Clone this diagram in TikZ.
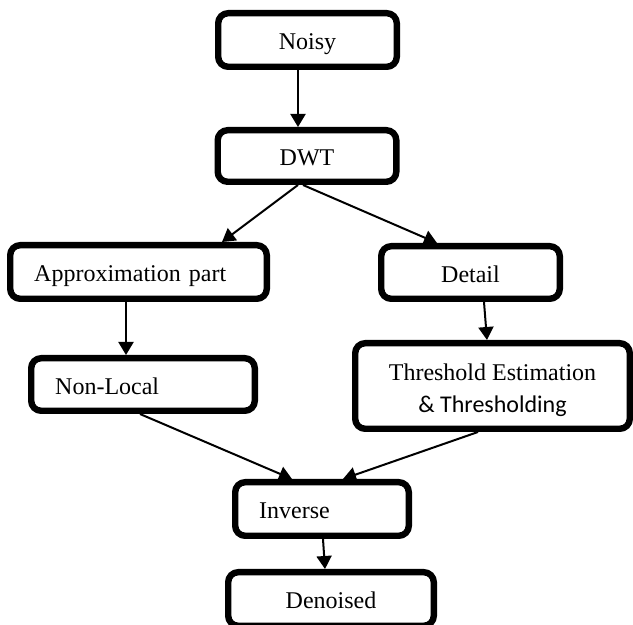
\documentclass[tikz,border=0pt]{standalone}
\usepackage{fontspec}
\setmainfont{Liberation Serif}
\newfontfamily\calibrifont{Carlito}
\usepackage{tikz}
\usetikzlibrary{arrows.meta}

\tikzset{
  block/.style={draw, line width=3.2pt, rounded corners=5pt, minimum height=26.8pt,
    text height=10pt, text depth=0pt, font=\fontsize{12}{14}\selectfont},
  padded/.style={align=left, inner xsep=12pt, text width=#1},
}

\begin{document}
\begin{tikzpicture}[x=0.5pt, y=-0.5pt, -{Triangle[length=6.5pt,width=7.5pt]}, line width=1pt]
		\useasboundingbox (0,0) rectangle (633,625);

		\node[block, minimum width=89.3pt] (noisy) at (307.5,40) {Noisy};
		\node[block, minimum width=89.3pt, minimum height=25.8pt] (dwt) at (307,156) {DWT};

		\node[block, padded=104.3pt] (approx) at (138.5,272) {Approximation part};
		\node[block, minimum width=89.3pt, minimum height=26.3pt] (detail) at (470.5,272.5) {Detail};

		\node[block, padded=87.8pt, minimum height=26.3pt] (nonlocal) at (143,384.5) {Non-Local};
		\node[block, minimum width=137.3pt, minimum height=42.8pt, align=center,
			text height=27pt, font=\fontsize{12}{16}\selectfont] (thresh) at (492.5,386)
			{Threshold Estimation\\{\calibrifont \& Thresholding}};

		\node[block, padded=62.8pt] (inverse) at (322,509) {Inverse};
		\node[block, minimum width=102.8pt] (denoised) at (331,599) {Denoised};

		\path ([xshift=-4.75pt]noisy.south) edge ([xshift=-4.5pt]dwt.north);

		\path ([xshift=-4.5pt]dwt.south) edge ([xshift=41.75pt]approx.north);
		\path ([xshift=-2pt]dwt.south) edge ([xshift=-16.75pt]detail.north);

		\path ([xshift=-6.25pt]approx.south) edge ([xshift=-8.5pt]nonlocal.north);
		\path ([xshift=6.75pt]detail.south) edge ([xshift=-2.75pt]thresh.north);

		\path ([xshift=-1.5pt]nonlocal.south) edge ([xshift=-15pt]inverse.north);
		\path ([xshift=-7.25pt]thresh.south) edge ([xshift=10.5pt]inverse.north);

		\path ([xshift=0.5pt]inverse.south) edge ([xshift=-3pt]denoised.north);
	\end{tikzpicture}
\end{document}
